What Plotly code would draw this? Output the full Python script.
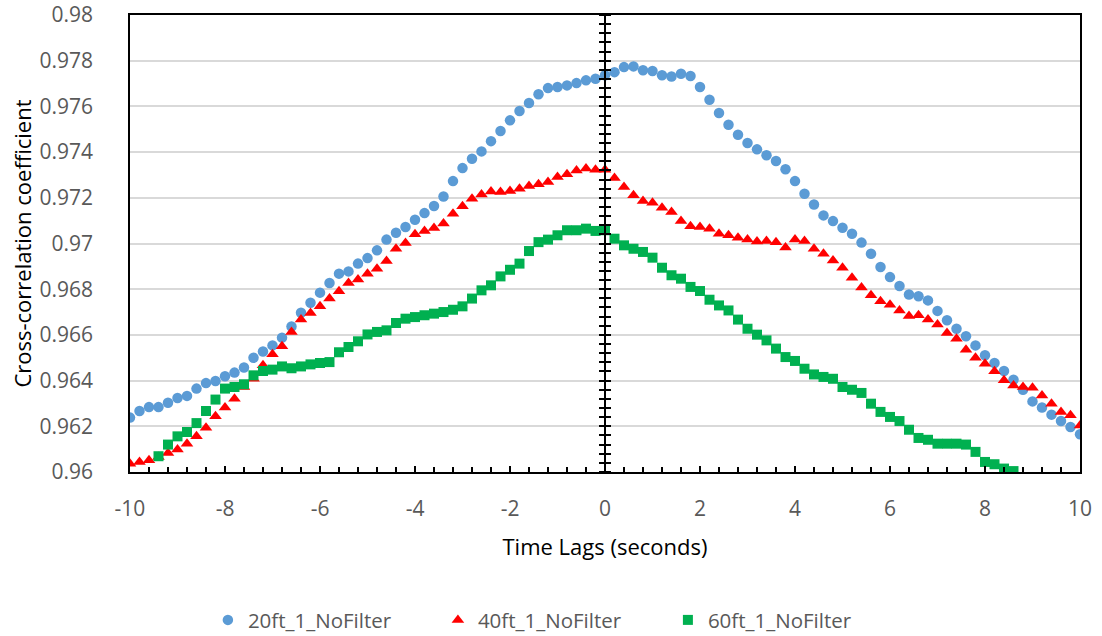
import plotly.graph_objects as go

# ---------------- data ----------------
lags = [round(-10 + 0.2 * i, 1) for i in range(101)]

ft20 = [0.96238, 0.96267, 0.96284, 0.96284, 0.96303, 0.96324, 0.96333, 0.96365, 0.96389, 0.96398,
        0.96419, 0.96435, 0.96457, 0.96500, 0.96527, 0.96554, 0.96588, 0.96637, 0.96697, 0.96741,
        0.96785, 0.96827, 0.96868, 0.96878, 0.96912, 0.96936, 0.96970, 0.97017, 0.97047, 0.97072,
        0.97104, 0.97133, 0.97164, 0.97206, 0.97273, 0.97330, 0.97371, 0.97403, 0.97448, 0.97492,
        0.97539, 0.97580, 0.97615, 0.97653, 0.97680, 0.97685, 0.97692, 0.97702, 0.97714, 0.97721,
        0.97736, 0.97750, 0.97772, 0.97775, 0.97758, 0.97755, 0.97736, 0.97731, 0.97743, 0.97733,
        0.97685, 0.97629, 0.97571, 0.97520, 0.97476, 0.97440, 0.97412, 0.97386, 0.97361, 0.97325,
        0.97273, 0.97218, 0.97171, 0.97123, 0.97098, 0.97069, 0.97043, 0.97004, 0.96955, 0.96897,
        0.96853, 0.96814, 0.96777, 0.96769, 0.96751, 0.96705, 0.96664, 0.96627, 0.96594, 0.96554,
        0.96511, 0.96477, 0.96442, 0.96404, 0.96360, 0.96309, 0.96282, 0.96251, 0.96223, 0.96197,
        0.96165]

ft40 = [0.96036, 0.96044, 0.96051, 0.96066, 0.96083, 0.96098, 0.96124, 0.96156, 0.96194, 0.96244,
        0.96282, 0.96321, 0.96372, 0.96408, 0.96467, 0.96515, 0.96550, 0.96613, 0.96667, 0.96696,
        0.96725, 0.96759, 0.96791, 0.96827, 0.96842, 0.96868, 0.96890, 0.96923, 0.96977, 0.97002,
        0.97040, 0.97055, 0.97068, 0.97087, 0.97130, 0.97163, 0.97196, 0.97214, 0.97228, 0.97225,
        0.97230, 0.97240, 0.97252, 0.97259, 0.97269, 0.97291, 0.97303, 0.97320, 0.97328, 0.97323,
        0.97323, 0.97287, 0.97247, 0.97211, 0.97186, 0.97178, 0.97157, 0.97138, 0.97098, 0.97075,
        0.97072, 0.97065, 0.97043, 0.97036, 0.97025, 0.97017, 0.97009, 0.97011, 0.97006, 0.96982,
        0.97017, 0.97011, 0.96977, 0.96955, 0.96926, 0.96894, 0.96850, 0.96807, 0.96773, 0.96747,
        0.96732, 0.96707, 0.96683, 0.96686, 0.96667, 0.96645, 0.96608, 0.96583, 0.96535, 0.96500,
        0.96474, 0.96441, 0.96401, 0.96379, 0.96372, 0.96369, 0.96335, 0.96299, 0.96263, 0.96248,
        0.96204]

ft60 = [None, None, None, 0.96069, 0.96120, 0.96156, 0.96175, 0.96214, 0.96267, 0.96317,
        0.96365, 0.96372, 0.96384, 0.96423, 0.96442, 0.96448, 0.96462, 0.96454, 0.96462, 0.96471,
        0.96477, 0.96481, 0.96524, 0.96547, 0.96572, 0.96602, 0.96613, 0.96620, 0.96652, 0.96671,
        0.96678, 0.96686, 0.96693, 0.96700, 0.96710, 0.96725, 0.96759, 0.96795, 0.96817, 0.96856,
        0.96885, 0.96912, 0.96967, 0.97006, 0.97017, 0.97036, 0.97058, 0.97058, 0.97065, 0.97055,
        0.97058, 0.97021, 0.96992, 0.96977, 0.96963, 0.96938, 0.96894, 0.96861, 0.96846, 0.96810,
        0.96792, 0.96754, 0.96729, 0.96707, 0.96667, 0.96627, 0.96601, 0.96576, 0.96540, 0.96503,
        0.96486, 0.96452, 0.96427, 0.96416, 0.96408, 0.96372, 0.96360, 0.96346, 0.96299, 0.96263,
        0.96241, 0.96223, 0.96185, 0.96149, 0.96141, 0.96124, 0.96124, 0.96124, 0.96120, 0.96088,
        0.96044, 0.96034, 0.96015, 0.96004, None, None, None, None, None, None,
        None]

series_names = ["20ft_1_NoFilter", "40ft_1_NoFilter", "60ft_1_NoFilter"]

x_tickvals = [-10, -8, -6, -4, -2, 0, 2, 4, 6, 8, 10]
x_ticktext = ["-10", "-8", "-6", "-4", "-2", "0", "2", "4", "6", "8", "10"]
y_tickvals = [0.96, 0.962, 0.964, 0.966, 0.968, 0.97, 0.972, 0.974, 0.976, 0.978, 0.98]
y_ticktext = ["0.96", "0.962", "0.964", "0.966", "0.968", "0.97", "0.972", "0.974", "0.976", "0.978", "0.98"]

# ---------------- figure ----------------
FONT = "Open Sans"
fig = go.Figure()

styles = [
    dict(color="#5B9BD5", symbol="circle", size=10.5),
    dict(color="#FF0000", symbol="triangle-up", size=11),
    dict(color="#00B050", symbol="square", size=10),
]
for name, vals, st in zip(series_names, [ft20, ft40, ft60], styles):
    fig.add_trace(go.Scatter(x=lags, y=vals, mode="markers", name=name,
                             marker=dict(color=st["color"], symbol=st["symbol"], size=st["size"],
                                         line=dict(width=0))))

# helper traces so the axis drawn at x = 0 renders
fig.add_trace(go.Scatter(x=[], y=[], yaxis="y2", showlegend=False, hoverinfo="skip"))
fig.add_trace(go.Scatter(x=[], y=[], yaxis="y3", showlegend=False, hoverinfo="skip"))

yr = [0.96, 0.98]
center_axis = dict(range=yr, overlaying="y", anchor="free", position=0.5,
                   showgrid=False, zeroline=False, showticklabels=False,
                   showline=True, linecolor="black", linewidth=2,
                   ticks="outside", ticklen=5, tickwidth=1.5, tickcolor="black",
                   tick0=0.96, dtick=0.002,
                   minor=dict(ticks="outside", ticklen=5, tickwidth=1.5, tickcolor="black",
                              tick0=0.96, dtick=0.0004, showgrid=False))

fig.update_layout(
    width=1102, height=636,
    margin=dict(l=130, r=22, t=15, b=164, autoexpand=False),
    paper_bgcolor="white", plot_bgcolor="white",
    font=dict(family=FONT, size=21, color="#595959"),
    xaxis=dict(range=[-10, 10], tickvals=x_tickvals, ticktext=x_ticktext,
               showgrid=False, zeroline=False,
               showline=True, linecolor="black", linewidth=2, mirror=True,
               ticks="inside", ticklen=6, tickwidth=1.5, tickcolor="black",
               minor=dict(ticks="inside", ticklen=5, tickwidth=1.5, tickcolor="black",
                          tick0=-10, dtick=0.4, showgrid=False),
               ticklabelstandoff=17,
               tickfont=dict(family=FONT, size=21, color="#595959"),
               title=dict(text="Time Lags (seconds)", standoff=18,
                          font=dict(family=FONT, size=22, color="#000000"))),
    yaxis=dict(range=yr, tickvals=y_tickvals, ticktext=y_ticktext,
               showgrid=True, gridcolor="#D9D9D9", gridwidth=1.5, zeroline=False,
               showline=True, linecolor="black", linewidth=1.5, mirror=True,
               ticks="", ticklabelstandoff=31,
               tickfont=dict(family=FONT, size=21, color="#595959"),
               title=dict(text="Cross-correlation coefficient", standoff=2,
                          font=dict(family=FONT, size=22, color="#000000"))),
    yaxis2=dict(side="left", **center_axis),
    yaxis3=dict(side="right", **center_axis),
    legend=dict(orientation="h", x=0.082, y=-0.324, xanchor="left", yanchor="middle",
                font=dict(family=FONT, size=20.5, color="#595959"),
                itemwidth=30, entrywidth=185, entrywidthmode="pixels",
                bgcolor="rgba(0,0,0,0)"),
    showlegend=True,
)

fig.write_html("out.html")
